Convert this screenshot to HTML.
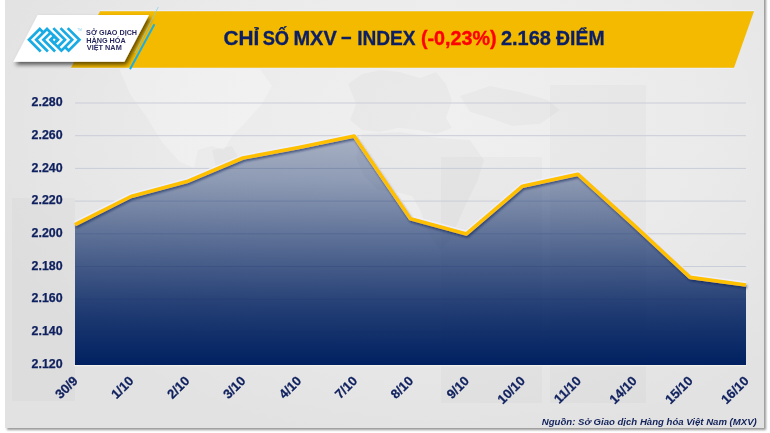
<!DOCTYPE html>
<html><head><meta charset="utf-8">
<style>
html,body{margin:0;padding:0;background:#fff;width:770px;height:433px;overflow:hidden}
svg{display:block;will-change:transform}
text{font-family:"Liberation Sans",sans-serif}
</style></head>
<body>
<svg width="770" height="433" viewBox="0 0 770 433">
<defs>
  <filter id="csh" x="-2%" y="-2%" width="104%" height="104%">
    <feGaussianBlur in="SourceAlpha" stdDeviation="1"/>
    <feOffset dx="1.6" dy="1.6" result="b"/>
    <feFlood flood-color="#000" flood-opacity="0.4"/>
    <feComposite in2="b" operator="in"/>
    <feMerge><feMergeNode/><feMergeNode in="SourceGraphic"/></feMerge>
  </filter>
  <radialGradient id="bgl" cx="440" cy="120" r="480" gradientUnits="userSpaceOnUse" gradientTransform="translate(440,120) scale(1,0.68) translate(-440,-120)">
    <stop offset="0" stop-color="#f0f0f0" stop-opacity="1"/>
    <stop offset="0.55" stop-color="#f0f0f0" stop-opacity="0.6"/>
    <stop offset="1" stop-color="#f0f0f0" stop-opacity="0"/>
  </radialGradient>
  <linearGradient id="area" x1="0" y1="136" x2="0" y2="365" gradientUnits="userSpaceOnUse">
    <stop offset="0" stop-color="#002060" stop-opacity="0.30"/>
    <stop offset="0.2" stop-color="#002060" stop-opacity="0.40"/>
    <stop offset="0.5" stop-color="#002060" stop-opacity="0.65"/>
    <stop offset="0.75" stop-color="#002060" stop-opacity="0.85"/>
    <stop offset="1" stop-color="#002060" stop-opacity="1"/>
  </linearGradient>
  <linearGradient id="shR" x1="0" y1="0" x2="1" y2="0">
    <stop offset="0" stop-color="#3d2c00" stop-opacity="0.9"/>
    <stop offset="1" stop-color="#3d2c00" stop-opacity="0"/>
  </linearGradient>
  <filter id="lsh" x="-5%" y="-5%" width="110%" height="120%">
    <feGaussianBlur in="SourceAlpha" stdDeviation="1"/>
    <feOffset dx="0.6" dy="1.6" result="b"/>
    <feFlood flood-color="#0a1d55" flood-opacity="0.55"/>
    <feComposite in2="b" operator="in"/>
    <feMerge><feMergeNode/><feMergeNode in="SourceGraphic"/></feMerge>
  </filter>
  <filter id="wsh" x="-20%" y="-20%" width="140%" height="160%">
    <feGaussianBlur in="SourceAlpha" stdDeviation="2"/>
    <feOffset dx="2.4" dy="2.6" result="b"/>
    <feFlood flood-color="#000000" flood-opacity="0.62"/>
    <feComposite in2="b" operator="in"/>
    <feMerge><feMergeNode/><feMergeNode in="SourceGraphic"/></feMerge>
  </filter>
</defs>

<!-- card shadow + card -->
<rect x="5" y="-5" width="759" height="433" fill="#e2e2e2" filter="url(#csh)"/>
<rect x="5" y="0" width="759" height="428" fill="url(#bgl)"/>

<!-- bg decorations -->
<g fill="#000" fill-opacity="0.018">
  <rect x="12" y="198" width="63" height="203"/>
  <rect x="441" y="157" width="101" height="246"/>
  <rect x="550" y="85" width="96" height="318"/>
</g>
<g fill="#fff" fill-opacity="0.25">
  <polygon points="118,66 258,66 272,86 262,104 246,122 232,136 224,150 212,146 198,150 194,168 180,162 162,142 146,116 130,94"/>
</g>
<g fill="#000" fill-opacity="0.022">
  <polygon points="348,84 362,74 380,70 400,72 420,78 436,72 446,84 452,100 446,118 452,128 436,134 418,130 398,128 380,132 362,130 350,120 356,104"/>
  <polygon points="460,96 490,86 520,92 548,100 560,110 540,124 512,126 490,118 470,112"/>
  <polygon points="362,134 400,132 440,138 470,140 484,160 478,180 468,200 458,222 450,240 440,250 430,236 420,210 412,196 396,192 378,190 364,176 356,158"/>
  <polygon points="212,150 232,146 240,160 228,170 216,168"/>
</g>

<!-- banner -->
<line x1="100" y1="10.6" x2="754" y2="10.6" stroke="#eceef8" stroke-width="1.2"/>
<line x1="71" y1="68.4" x2="734" y2="68.4" stroke="#eceef8" stroke-width="1.2"/>
<polygon points="100,11.3 754,11.3 734,67.7 71,67.7" fill="#f3ba00"/>

<!-- white logo plate with shadow -->
<polygon points="37.7,15 149,15 124.4,61.7 13.3,61.7" fill="#fff" filter="url(#wsh)"/>

<!-- blue lines -->
<line x1="158.3" y1="7" x2="135" y2="53" stroke="#7fd0ee" stroke-width="0.7"/>
<line x1="154.4" y1="24.3" x2="130" y2="69.3" stroke="#1aaee8" stroke-width="2"/>

<!-- logo icon -->
<g transform="translate(54.2,39.8)" fill="none" stroke="#18abe4" stroke-width="2.7" stroke-linejoin="miter">
  <polyline points="-13.5,11.7 -25.2,0 -14.4,-10.8 -10.8,-7.2"/>
  <polyline points="-6.3,11.7 -18,0 -7.2,-10.8 3.6,0 0,3.6 -3.6,0 -1.8,-1.8"/>
  <polyline points="0.9,11.7 -10.8,0 -3.6,-7.2"/>
  <polyline points="13.5,-11.7 25.2,0 14.4,10.8 10.8,7.2"/>
  <polyline points="6.3,-11.7 18,0 7.2,10.8 -3.6,0 0,-3.6 3.6,0 1.8,1.8"/>
  <polyline points="-0.9,-11.7 10.8,0 3.6,7.2"/>
</g>
<text x="77.3" y="31.2" font-size="2.6" fill="#7fcfee" textLength="4.4" lengthAdjust="spacingAndGlyphs">TM</text>
<g fill="#2b2a60" font-size="8" font-weight="bold">
  <text transform="translate(86.1,34.6) scale(0.90,1)">SỞ GIAO DỊCH</text>
  <text transform="translate(86.2,42.8) scale(0.909,1)">HÀNG HÓA</text>
  <text transform="translate(86.8,50.3) scale(0.915,1)">VIỆT NAM</text>
</g>

<!-- title -->
<g font-size="19.3" font-weight="bold">
  <text transform="translate(223.61,44.5) scale(1.077,1)" fill="#0c1f64" stroke="#0c1f64" stroke-width="0.3">CHỈ</text>
  <text transform="translate(262.64,44.5) scale(0.947,1)" fill="#0c1f64" stroke="#0c1f64" stroke-width="0.3">SỐ</text>
  <text transform="translate(293.45,44.5) scale(1.036,1)" fill="#0c1f64" stroke="#0c1f64" stroke-width="0.3">MXV</text>
  <text transform="translate(341.3,43.0) scale(0.95,1)" fill="#0c1f64" stroke="#0c1f64" stroke-width="0.5">–</text>
  <text transform="translate(357.19,44.5) scale(0.990,1)" fill="#0c1f64" stroke="#0c1f64" stroke-width="0.3">INDEX</text>
  <text transform="translate(420.96,44.5) scale(1.022,1)" fill="#ff0000" stroke="#ff0000" stroke-width="0.35">(-0,23%)</text>
  <text transform="translate(500.95,44.5) scale(1.034,1)" fill="#0c1f64" stroke="#0c1f64" stroke-width="0.3">2.168</text>
  <text transform="translate(556.10,44.5) scale(1.005,1)" fill="#0c1f64" stroke="#0c1f64" stroke-width="0.3">ĐIỂM</text>
</g>

<!-- gridlines -->
<g stroke="#c9cdd8" stroke-width="1">
  <line x1="75" y1="103" x2="746" y2="103"/>
  <line x1="75" y1="135.7" x2="746" y2="135.7"/>
  <line x1="75" y1="168.4" x2="746" y2="168.4"/>
  <line x1="75" y1="201.1" x2="746" y2="201.1"/>
  <line x1="75" y1="233.8" x2="746" y2="233.8"/>
  <line x1="75" y1="266.5" x2="746" y2="266.5"/>
  <line x1="75" y1="299.2" x2="746" y2="299.2"/>
  <line x1="75" y1="331.9" x2="746" y2="331.9"/>
</g>

<!-- y labels -->
<g font-size="12.4" font-weight="bold" fill="#0f205e" stroke="#0f205e" stroke-width="0.25" text-anchor="end">
  <text x="62.6" y="106.2">2.280</text>
  <text x="62.6" y="138.9">2.260</text>
  <text x="62.6" y="171.6">2.240</text>
  <text x="62.6" y="204.3">2.220</text>
  <text x="62.6" y="237.0">2.200</text>
  <text x="62.6" y="269.7">2.180</text>
  <text x="62.6" y="302.4">2.160</text>
  <text x="62.6" y="335.1">2.140</text>
  <text x="62.6" y="367.8">2.120</text>
</g>

<!-- area -->
<polygon fill="url(#area)" points="75,224.6 130.9,196.5 186.8,181.6 242.8,158 298.7,147.5 354.2,136.1 410.5,218.7 466.4,233.9 522.4,186.2 577.8,174.2 634.2,225.4 690.1,277.4 746,285 746,365 75,365"/>
<line x1="74" y1="365.6" x2="746.5" y2="365.6" stroke="#f3f1ec" stroke-width="1.2"/>
<!-- line -->
<polyline fill="none" stroke="#eef0fb" stroke-opacity="0.85" stroke-width="5" stroke-linejoin="round" transform="translate(0,-1)" points="75,224.6 130.9,196.5 186.8,181.6 242.8,158 298.7,147.5 354.2,136.1 410.5,218.7 466.4,233.9 522.4,186.2 577.8,174.2 634.2,225.4 690.1,277.4 746,285"/>
<polyline fill="none" stroke="#ffc000" stroke-width="3.6" stroke-linejoin="round" filter="url(#lsh)" points="75,224.6 130.9,196.5 186.8,181.6 242.8,158 298.7,147.5 354.2,136.1 410.5,218.7 466.4,233.9 522.4,186.2 577.8,174.2 634.2,225.4 690.1,277.4 746,285"/>

<!-- x labels -->
<g font-size="13" font-weight="bold" fill="#0f205e" stroke="#0f205e" stroke-width="0.25" text-anchor="end">
  <text transform="translate(78.5,381.7) rotate(-45)">30/9</text>
  <text transform="translate(134.4,381.7) rotate(-45)">1/10</text>
  <text transform="translate(190.3,381.7) rotate(-45)">2/10</text>
  <text transform="translate(246.3,381.7) rotate(-45)">3/10</text>
  <text transform="translate(302.2,381.7) rotate(-45)">4/10</text>
  <text transform="translate(358.1,381.7) rotate(-45)">7/10</text>
  <text transform="translate(414.0,381.7) rotate(-45)">8/10</text>
  <text transform="translate(469.9,381.7) rotate(-45)">9/10</text>
  <text transform="translate(525.8,381.7) rotate(-45)">10/10</text>
  <text transform="translate(581.8,381.7) rotate(-45)">11/10</text>
  <text transform="translate(637.7,381.7) rotate(-45)">14/10</text>
  <text transform="translate(693.6,381.7) rotate(-45)">15/10</text>
  <text transform="translate(749.5,381.7) rotate(-45)">16/10</text>
</g>

<!-- source -->
<text x="756.8" y="425" font-size="9.6" font-weight="bold" font-style="italic" fill="#13235b" text-anchor="end">Nguồn: Sở Giao dịch Hàng hóa Việt Nam (MXV)</text>
</svg>
</body></html>
